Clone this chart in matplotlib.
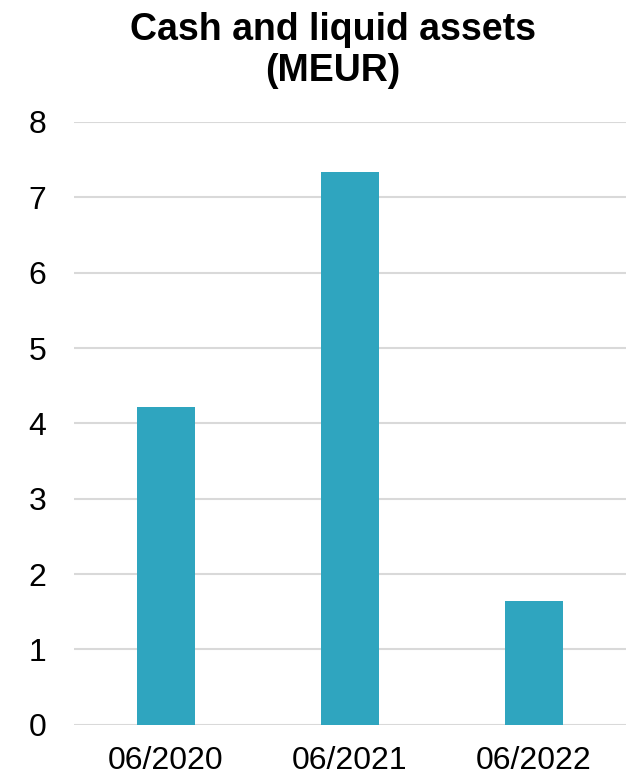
import matplotlib
matplotlib.use("Agg")
import matplotlib.pyplot as plt

periods = ["06/2020", "06/2021", "06/2022"]
cash = [4.22, 7.33, 1.64]
yticks = [0, 1, 2, 3, 4, 5, 6, 7, 8]

plt.rcParams['font.family'] = ['Liberation Sans', 'DejaVu Sans']

fig = plt.figure(figsize=(6.41, 7.79), dpi=100)
ax = fig.add_axes([0.1154, 0.0697, 0.8612, 0.7737])

ax.bar(range(len(periods)), cash, width=0.315, color="#2FA5BF", zorder=3)

ax.set_xlim(-0.5, len(periods) - 0.5)
ax.set_ylim(0, 8)
ax.set_yticks(yticks)
ax.set_xticks(range(len(periods)))
ax.set_xticklabels(periods)

ax.grid(axis="y", color="#D9D9D9", linewidth=1.5, zorder=0)
ax.tick_params(axis="both", length=0, labelsize=23)
ax.tick_params(axis="y", pad=20)
ax.tick_params(axis="x", pad=15)
for s in ax.spines.values():
    s.set_visible(False)

fig.text(333 / 641, 0.985, "Cash and liquid assets\n(MEUR)", ha="center", va="top",
         fontsize=27, fontweight="bold", linespacing=1.18)

fig.savefig("out.png", dpi=100)
